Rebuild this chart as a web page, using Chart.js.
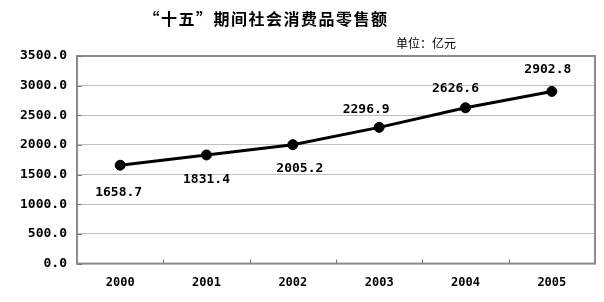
<!DOCTYPE html>
<html>
<head>
<meta charset="utf-8">
<script src="https://cdn.jsdelivr.net/npm/chart.js@4/dist/chart.umd.min.js"></script>
<style>
  html, body { margin: 0; padding: 0; background: #ffffff; }
  #wrap { width: 604px; height: 302px; position: relative; }
</style>
</head>
<body>
<div id="wrap"><canvas id="c" width="604" height="302"></canvas></div>
<script>
// ---- data ----
const categories = ['2000', '2001', '2002', '2003', '2004', '2005'];
const salesValues = [1658.7, 1831.4, 2005.2, 2296.9, 2626.6, 2902.8];
const yTickValues = [0, 500, 1000, 1500, 2000, 2500, 3000, 3500];
const chartTitle = '“十五”期间社会消费品零售额';
const unitLabel = '单位：亿元';

// label placement (styling, relative to each point)
const labelOffsets = [[-1.5, 27], [0, 25], [7, 24], [-13, -18], [-10, -19], [-4, -22]];

const monoFont = "'DejaVu Sans Mono', 'Liberation Mono', monospace";
const cjkFont = "'Noto Sans CJK SC', 'Noto Sans', sans-serif";

const framePlugin = {
  id: 'frame',
  afterDraw(chart) {
    const { ctx, chartArea: a } = chart;
    ctx.save();
    ctx.strokeStyle = '#8c8c8c';
    ctx.lineWidth = 2;
    ctx.strokeRect(a.left, a.top, a.right - a.left, a.bottom - a.top);
    // inner tick marks on y axis
    const ys = chart.scales.y;
    ctx.lineWidth = 1;
    ctx.strokeStyle = '#7a7a7a';
    yTickValues.forEach(v => {
      const y = Math.round(ys.getPixelForValue(v)) + 0.5;
      ctx.beginPath();
      ctx.moveTo(a.left, y);
      ctx.lineTo(a.left + 5, y);
      ctx.stroke();
    });
    // inner tick marks on x axis (between categories)
    const xs = chart.scales.x;
    const step = xs.getPixelForValue(1) - xs.getPixelForValue(0);
    for (let i = 1; i < categories.length; i++) {
      const x = Math.round(xs.getPixelForValue(i) - step / 2) + 0.5;
      ctx.beginPath();
      ctx.moveTo(x, a.bottom);
      ctx.lineTo(x, a.bottom - 4);
      ctx.stroke();
    }
    // title
    ctx.fillStyle = '#000';
    ctx.textAlign = 'center';
    ctx.textBaseline = 'middle';
    ctx.font = "bold 16px " + cjkFont;
    if ('letterSpacing' in ctx) ctx.letterSpacing = '1.5px';
    ctx.fillText(chartTitle, 266, 19);
    if ('letterSpacing' in ctx) ctx.letterSpacing = '0px';
    // unit label
    ctx.font = "12px " + cjkFont;
    ctx.textAlign = 'right';
    ctx.fillText(unitLabel, 456, 43);
    ctx.restore();
  },
  afterDatasetsDraw(chart) {
    const { ctx } = chart;
    const meta = chart.getDatasetMeta(0);
    ctx.save();
    ctx.fillStyle = '#000';
    ctx.font = "bold 13px " + monoFont;
    ctx.textAlign = 'center';
    ctx.textBaseline = 'middle';
    meta.data.forEach((pt, i) => {
      const [dx, dy] = labelOffsets[i];
      ctx.fillText(salesValues[i].toFixed(1), pt.x + dx, pt.y + dy);
    });
    ctx.restore();
  }
};

new Chart(document.getElementById('c'), {
  type: 'line',
  data: {
    labels: categories,
    datasets: [{
      data: salesValues,
      borderColor: '#000',
      borderWidth: 3,
      backgroundColor: '#000',
      pointRadius: 5,
      pointBorderWidth: 1,
      pointBackgroundColor: '#000',
      pointBorderColor: '#000',
      tension: 0,
      fill: false
    }]
  },
  options: {
    responsive: false,
    animation: false,
    devicePixelRatio: 1,
    layout: { padding: { left: 0, right: 9, top: 56, bottom: 0 } },
    plugins: {
      legend: { display: false },
      tooltip: { enabled: false },
      title: { display: false }
    },
    scales: {
      x: {
        offset: true,
        grid: { display: false, drawTicks: false },
        border: { display: false },
        ticks: {
          color: '#000',
          padding: 12,
          font: { family: monoFont, size: 12, weight: 'bold' }
        }
      },
      y: {
        min: 0,
        max: 3500,
        afterFit(scale) { scale.width = 77; },
        afterBuildTicks(scale) { scale.ticks = yTickValues.map(v => ({ value: v })); },
        grid: { color: '#c0c0c0', lineWidth: 1, drawTicks: false },
        border: { display: false },
        ticks: {
          color: '#000',
          padding: 10,
          font: { family: monoFont, size: 13, weight: 'bold' },
          callback: v => Number(v).toFixed(1)
        }
      }
    }
  },
  plugins: [framePlugin]
});
</script>
</body>
</html>
